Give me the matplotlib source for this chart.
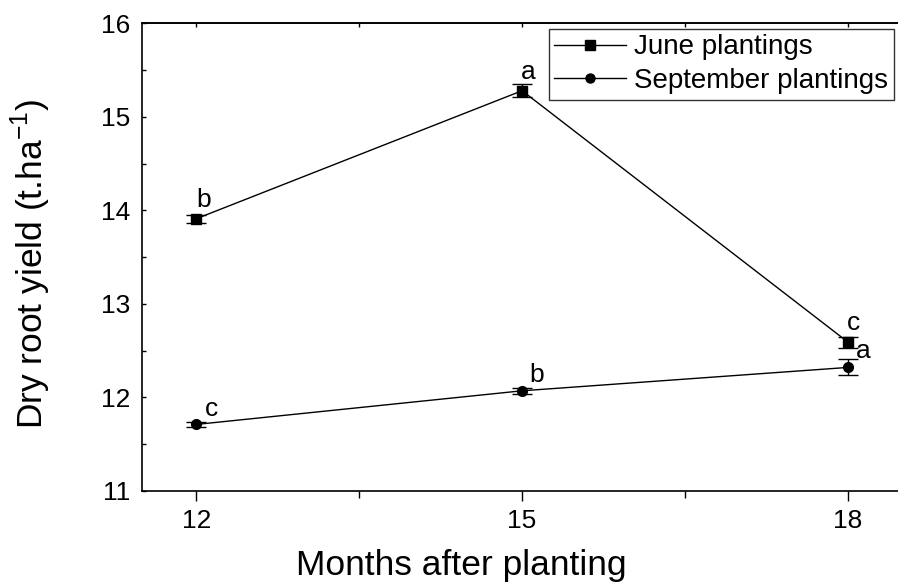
import numpy as np
import matplotlib.pyplot as plt
from matplotlib.ticker import MultipleLocator
from matplotlib.lines import Line2D

plt.rcParams['font.family'] = ['Liberation Sans', 'DejaVu Sans']

# data
months = [12, 15, 18]
june_yield = [13.91, 15.28, 12.59]
june_err = [0.04, 0.07, 0.06]
june_letters = ['b', 'a', 'c']
sept_yield = [11.71, 12.07, 12.32]
sept_err = [0.03, 0.03, 0.085]
sept_letters = ['c', 'b', 'a']

fig = plt.figure(figsize=(8.98, 5.85), dpi=100)
ax = fig.add_axes([0.158, 0.161, 0.842, 0.799])

ax.errorbar(months, june_yield, yerr=june_err, color='black', marker='s',
            markersize=7, lw=1, capsize=7, elinewidth=1, capthick=1)
ax.errorbar(months, sept_yield, yerr=sept_err, color='black', marker='o',
            markersize=7, lw=1, capsize=7, elinewidth=1, capthick=1)

# significance letters (offsets from each point)
j_off = [(0.07, 0.125), (0.055, 0.12), (0.046, 0.13)]
for x, y, t, (dx, dy) in zip(months, june_yield, june_letters, j_off):
    ax.text(x + dx, y + dy, t, fontsize=19, ha='center', va='baseline')
s_off = [(0.143, 0.09), (0.138, 0.097), (0.138, 0.097)]
for x, y, t, (dx, dy) in zip(months, sept_yield, sept_letters, s_off):
    ax.text(x + dx, y + dy, t, fontsize=19, ha='center', va='baseline')

ax.set_xlim(11.5, 18.46)
ax.set_ylim(11, 16)
ax.set_xticks(months)
ax.xaxis.set_minor_locator(MultipleLocator(1.5))
ax.yaxis.set_major_locator(MultipleLocator(1))
ax.yaxis.set_minor_locator(MultipleLocator(0.5))
ax.tick_params(axis='x', which='major', direction='out', length=7, width=1,
               labelsize=19, pad=6)
ax.tick_params(axis='x', which='minor', direction='out', length=5, width=1)
ax.tick_params(axis='y', which='both', direction='in', length=3, width=1,
               labelsize=19, pad=8.5)
top = ax.secondary_xaxis('top')
top.set_xticks(months)
top.xaxis.set_minor_locator(MultipleLocator(1.5))
top.tick_params(which='both', direction='in', length=3, width=1, labeltop=False)
top.spines['top'].set_linewidth(1.2)
ax.spines['right'].set_visible(False)
for s in ['left', 'bottom', 'top']:
    ax.spines[s].set_linewidth(1.2)

# axis titles placed in figure pixels
fig.text(461 / 898, 1 - 575 / 585, 'Months after planting', fontsize=25.5,
         ha='center', va='baseline')
fig.text(31 / 898, 1 - 264 / 585, 'Dry root yield (t.ha$^{\\mathregular{-1}}$)',
         fontsize=25.5, ha='center', va='center', rotation=90)

handles = [Line2D([], [], color='black', marker='s', markersize=6.5, lw=1),
           Line2D([], [], color='black', marker='o', markersize=6.5, lw=1)]
leg = ax.legend(handles, ['June plantings', 'September plantings'],
                loc='upper right', bbox_to_anchor=(0.9947, 0.9887), fontsize=20,
                frameon=True, fancybox=False, edgecolor='black',
                handlelength=2.6, borderpad=0.2, labelspacing=0.28,
                handletextpad=0.29, borderaxespad=0)
leg.get_frame().set_linewidth(1)

fig.savefig('out.png', dpi=100)
